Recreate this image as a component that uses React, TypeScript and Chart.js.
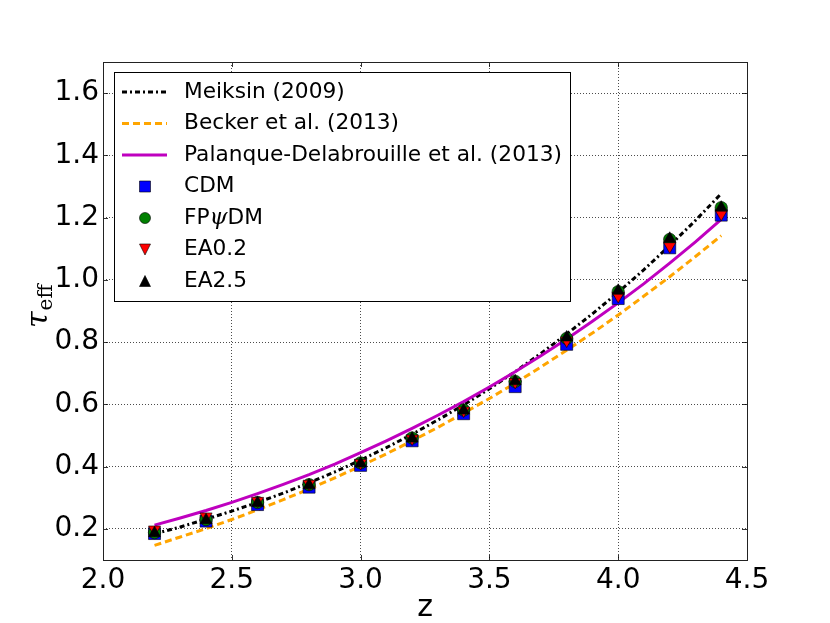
import { useEffect, useRef } from 'react';
import { Chart, registerables } from 'chart.js';

Chart.register(...registerables);

// ---- data ----
const zModel = [2.2, 2.3, 2.4, 2.5, 2.6, 2.7, 2.8, 2.9, 3.0, 3.1, 3.2, 3.3, 3.4, 3.5, 3.6, 3.7, 3.8, 3.9, 4.0, 4.1, 4.2, 4.3, 4.4];
const tauMeiksin = [0.184, 0.206, 0.231, 0.257, 0.285, 0.315, 0.348, 0.383, 0.421, 0.461, 0.504, 0.550, 0.598, 0.650, 0.705, 0.764, 0.826, 0.891, 0.960, 1.033, 1.110, 1.191, 1.277];
const tauBecker = [0.147, 0.174, 0.201, 0.230, 0.261, 0.294, 0.328, 0.364, 0.402, 0.441, 0.483, 0.526, 0.572, 0.619, 0.668, 0.720, 0.774, 0.829, 0.887, 0.948, 1.010, 1.075, 1.142];
const tauPalanque = [0.212, 0.235, 0.259, 0.285, 0.313, 0.343, 0.374, 0.408, 0.445, 0.483, 0.523, 0.565, 0.609, 0.656, 0.705, 0.756, 0.810, 0.867, 0.926, 0.988, 1.054, 1.122, 1.194];

const zSim = [2.2, 2.4, 2.6, 2.8, 3.0, 3.2, 3.4, 3.6, 3.8, 4.0, 4.2, 4.4];
const tauCDM = [0.185, 0.225, 0.278, 0.334, 0.404, 0.483, 0.570, 0.657, 0.793, 0.940, 1.103, 1.208];
const tauFPpsiDM = [0.188, 0.230, 0.285, 0.342, 0.412, 0.492, 0.582, 0.674, 0.812, 0.962, 1.130, 1.232];
const tauEA02 = [0.198, 0.240, 0.290, 0.345, 0.412, 0.490, 0.580, 0.672, 0.805, 0.948, 1.108, 1.212];
const tauEA25 = [0.186, 0.228, 0.283, 0.340, 0.410, 0.490, 0.580, 0.674, 0.815, 0.965, 1.132, 1.232];

const xTicks = [2.0, 2.5, 3.0, 3.5, 4.0, 4.5];
const yTicks = [0.2, 0.4, 0.6, 0.8, 1.0, 1.2, 1.4, 1.6];

const labels = [
  'Meiksin (2009)',
  'Becker et al. (2013)',
  'Palanque-Delabrouille et al. (2013)',
  'CDM',
  'FPψDM',
  'EA0.2',
  'EA2.5',
];

const toPts = (xs: number[], ys: number[]) => xs.map((x, i) => ({ x, y: ys[i] }));

const FONT = '"DejaVu Sans", "Liberation Sans", sans-serif';

function drawMarker(ctx: CanvasRenderingContext2D, kind: string, x: number, y: number, s: number, fill: string) {
  ctx.save();
  ctx.fillStyle = fill;
  ctx.strokeStyle = '#000';
  ctx.lineWidth = 0.6;
  ctx.setLineDash([]);
  ctx.beginPath();
  const h = s / 2;
  if (kind === 'rect') {
    ctx.rect(x - h, y - h, s, s);
  } else if (kind === 'circle') {
    ctx.arc(x, y, h, 0, Math.PI * 2);
  } else if (kind === 'down') {
    ctx.moveTo(x - h, y - h);
    ctx.lineTo(x + h, y - h);
    ctx.lineTo(x, y + h);
    ctx.closePath();
  } else {
    ctx.moveTo(x - h, y + h);
    ctx.lineTo(x + h, y + h);
    ctx.lineTo(x, y - h);
    ctx.closePath();
  }
  ctx.fill();
  ctx.stroke();
  ctx.restore();
}

const decorPlugin = {
  id: 'decor',
  afterDraw(chart: any) {
    const ctx: CanvasRenderingContext2D = chart.ctx;
    const a = chart.chartArea;
    const xs = chart.scales.x;
    const ys = chart.scales.y;
    ctx.save();
    // inner ticks on all four sides
    ctx.strokeStyle = '#000';
    ctx.lineWidth = 0.8;
    ctx.setLineDash([]);
    ctx.beginPath();
    xTicks.forEach((v) => {
      const px = Math.round(xs.getPixelForValue(v)) + 0.5;
      ctx.moveTo(px, a.bottom);
      ctx.lineTo(px, a.bottom - 5);
      ctx.moveTo(px, a.top);
      ctx.lineTo(px, a.top + 5);
    });
    yTicks.forEach((v) => {
      const py = Math.round(ys.getPixelForValue(v)) + 0.5;
      ctx.moveTo(a.left, py);
      ctx.lineTo(a.left + 5, py);
      ctx.moveTo(a.right, py);
      ctx.lineTo(a.right - 5, py);
    });
    ctx.stroke();
    // frame
    ctx.strokeStyle = '#222';
    ctx.lineWidth = 1;
    ctx.strokeRect(Math.round(a.left) + 0.5, Math.round(a.top) + 0.5, Math.round(a.right - a.left), Math.round(a.bottom - a.top));

    // x title
    ctx.fillStyle = '#000';
    ctx.font = `30px ${FONT}`;
    ctx.textAlign = 'center';
    ctx.textBaseline = 'alphabetic';
    ctx.fillText('z', (a.left + a.right) / 2, 616);

    // y title: tau_eff (rotated)
    ctx.save();
    ctx.translate(47, 328);
    ctx.rotate(-Math.PI / 2);
    ctx.textAlign = 'left';
    ctx.font = 'italic 30px "DejaVu Serif", "Liberation Serif", serif';
    ctx.fillText('τ', 0, 0);
    const tw = ctx.measureText('τ').width;
    ctx.font = '20px "DejaVu Serif", "Liberation Serif", serif';
    ctx.fillText('eff', tw + 1, 5);
    ctx.restore();

    // legend
    const bx = 114.5, by = 72.5, bw = 456, bh = 229;
    ctx.fillStyle = '#fff';
    ctx.fillRect(bx, by, bw, bh);
    ctx.strokeStyle = '#000';
    ctx.lineWidth = 1;
    ctx.setLineDash([]);
    ctx.strokeRect(bx, by, bw, bh);
    const ds = chart.data.datasets;
    const lf = `21.7px ${FONT}`;
    ds.forEach((d: any, i: number) => {
      const cy = 92 + i * 31.5;
      if (d.legendKind === 'line') {
        ctx.save();
        ctx.strokeStyle = d.borderColor;
        ctx.lineWidth = d.borderWidth;
        ctx.setLineDash(d.borderDash || []);
        ctx.beginPath();
        ctx.moveTo(122, cy);
        ctx.lineTo(167, cy);
        ctx.stroke();
        ctx.restore();
      } else {
        drawMarker(ctx, d.legendKind, 145, cy, 11, d.backgroundColor);
      }
      ctx.fillStyle = '#000';
      ctx.textAlign = 'left';
      ctx.textBaseline = 'middle';
      const label: string = d.label;
      if (label.includes('ψ')) {
        const [pre, post] = label.split('ψ');
        ctx.font = lf;
        ctx.fillText(pre, 184, cy);
        let x = 184 + ctx.measureText(pre).width;
        ctx.font = 'italic 23px "DejaVu Serif", "Liberation Serif", serif';
        ctx.fillText('ψ', x, cy);
        x += ctx.measureText('ψ').width;
        ctx.font = lf;
        ctx.fillText(post, x, cy);
      } else {
        ctx.font = lf;
        ctx.fillText(label, 184, cy);
      }
    });
    ctx.restore();
  },
};

export default function App() {
  const ref = useRef<HTMLCanvasElement | null>(null);

  useEffect(() => {
    document.body.style.margin = '0';
    const canvas = ref.current;
    if (!canvas) return;
    const lineBase = { showLine: true, pointRadius: 0, borderWidth: 3, fill: false, tension: 0, legendKind: 'line' };
    const chart = new Chart(canvas, {
      type: 'scatter',
      data: {
        datasets: [
          { ...lineBase, label: labels[0], data: toPts(zModel, tauMeiksin), borderColor: '#000000', borderDash: [5, 3, 2, 3], order: 6 },
          { ...lineBase, label: labels[1], data: toPts(zModel, tauBecker), borderColor: '#FFA500', borderDash: [7, 4], order: 5 },
          { ...lineBase, label: labels[2], data: toPts(zModel, tauPalanque), borderColor: '#BF00BF', order: 4 },
          { label: labels[3], data: toPts(zSim, tauCDM), pointStyle: 'rect', pointRadius: 8.5, backgroundColor: '#0000FF', borderColor: '#000', borderWidth: 0.6, legendKind: 'rect', order: 3 },
          { label: labels[4], data: toPts(zSim, tauFPpsiDM), pointStyle: 'circle', pointRadius: 6.2, backgroundColor: '#008000', borderColor: '#000', borderWidth: 0.6, legendKind: 'circle', order: 2 },
          { label: labels[5], data: toPts(zSim, tauEA02), pointStyle: 'triangle', pointRotation: 180, pointRadius: 7, backgroundColor: '#FF0000', borderColor: '#000', borderWidth: 0.6, legendKind: 'down', order: 1 },
          { label: labels[6], data: toPts(zSim, tauEA25), pointStyle: 'triangle', pointRadius: 7, backgroundColor: '#000000', borderColor: '#000', borderWidth: 0.6, legendKind: 'up', order: 0 },
        ] as any,
      },
      options: {
        animation: false,
        responsive: false,
        devicePixelRatio: 1,
        layout: { padding: { left: 0, top: 62, right: 83, bottom: 0 } },
        plugins: { legend: { display: false }, tooltip: { enabled: false } },
        scales: {
          x: {
            type: 'linear',
            min: 2.0,
            max: 4.5,
            afterBuildTicks: (s: any) => { s.ticks = xTicks.map((v) => ({ value: v })); },
            afterFit: (s: any) => { s.height = 63; },
            grid: { color: 'rgba(0,0,0,0.7)', lineWidth: 1, drawTicks: false },
            border: { display: false, dash: [1, 2] },
            ticks: {
              padding: 4,
              color: '#000',
              autoSkip: false,
              maxRotation: 0,
              font: { family: FONT, size: 28 },
              callback: (v: any) => Number(v).toFixed(1),
            },
          },
          y: {
            type: 'linear',
            min: 0.1,
            max: 1.7,
            afterBuildTicks: (s: any) => { s.ticks = yTicks.map((v) => ({ value: v })); },
            afterFit: (s: any) => { s.width = 103; },
            grid: { color: 'rgba(0,0,0,0.7)', lineWidth: 1, drawTicks: false },
            border: { display: false, dash: [1, 2] },
            ticks: {
              padding: 4,
              color: '#000',
              autoSkip: false,
              font: { family: FONT, size: 28 },
              callback: (v: any) => Number(v).toFixed(1),
            },
          },
        },
      } as any,
      plugins: [decorPlugin],
    });
    return () => chart.destroy();
  }, []);

  return (
    <div style={{ position: 'absolute', left: 0, top: 0, width: 830, height: 623, background: '#fff' }}>
      <canvas ref={ref} width={830} height={623} style={{ display: 'block', width: 830, height: 623 }} />
    </div>
  );
}
